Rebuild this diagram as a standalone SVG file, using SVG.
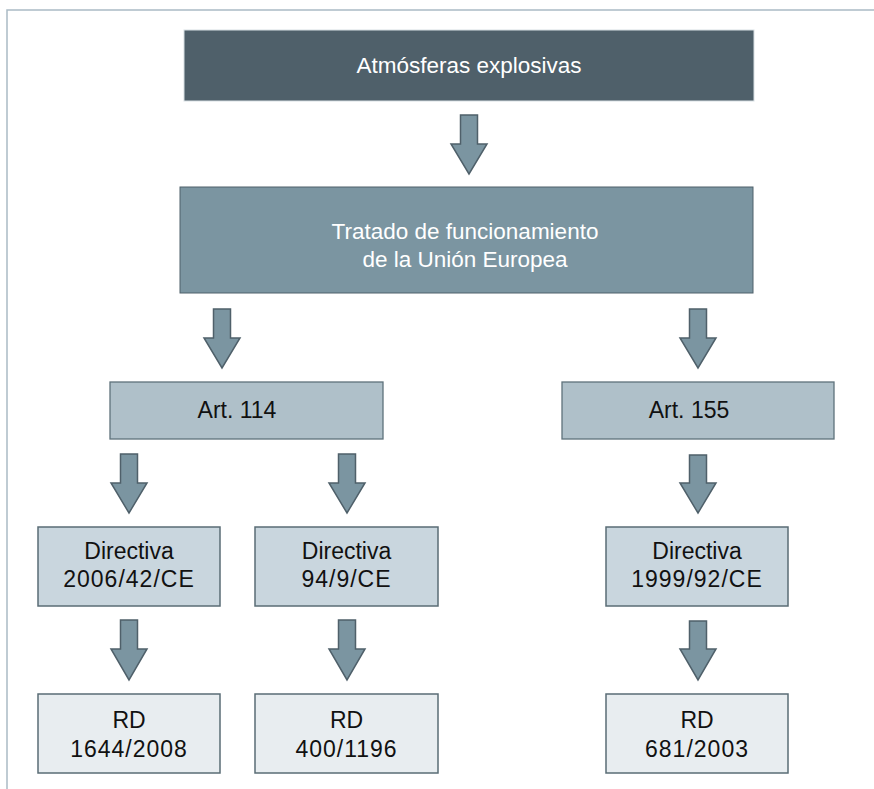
<svg xmlns="http://www.w3.org/2000/svg" width="874" height="789" viewBox="0 0 874 789">
<style>
.frame{fill:none;stroke:#aabbc5;stroke-width:1.5}
.b0{fill:#4f606a;stroke:#d8dfe3;stroke-width:1}
.b1{fill:#7b95a1;stroke:#4f606a;stroke-width:1}
.b2{fill:#afc0c9;stroke:#5f727b;stroke-width:1.3}
.b3{fill:#c9d6de;stroke:#5a6c75;stroke-width:1.5}
.b4{fill:#e8edf0;stroke:#5a6c75;stroke-width:1.5}
.arr{fill:#7b95a1;stroke:#4f606a;stroke-width:1.5;stroke-linejoin:miter}
text{font-family:"Liberation Sans",Arial,sans-serif;text-anchor:middle}
.w{fill:#ffffff;font-size:22.5px}
.k{fill:#111111;font-size:23px}
.n{letter-spacing:1px}
</style>
<path class="frame" d="M7,789 V10 H874"/>
<g id="connectors">
<path class="arr" d="M460.5,115 H477.5 V144 H487 L469,174 L451,144 H460.5 Z"/>
<path class="arr" d="M213.5,309 H230.5 V338 H240 L222,368 L204,338 H213.5 Z"/>
<path class="arr" d="M689.5,309 H706.5 V338 H716 L698,368 L680,338 H689.5 Z"/>
<path class="arr" d="M120.5,454 H137.5 V483 H147 L129,513 L111,483 H120.5 Z"/>
<path class="arr" d="M338.5,454 H355.5 V483 H365 L347,513 L329,483 H338.5 Z"/>
<path class="arr" d="M689.5,455 H706.5 V483 H716 L698,513 L680,483 H689.5 Z"/>
<path class="arr" d="M120.5,620 H137.5 V649 H147 L129,680 L111,649 H120.5 Z"/>
<path class="arr" d="M338.5,620 H355.5 V649 H365 L347,680 L329,649 H338.5 Z"/>
<path class="arr" d="M689.5,621 H706.5 V649 H716 L698,680 L680,649 H689.5 Z"/>
</g>
<g id="atmosferas">
<rect class="b0" x="184" y="30" width="570" height="71"/>
<text class="w" x="469" y="73">Atmósferas explosivas</text>
</g>
<g id="tratado">
<rect class="b1" x="180" y="187" width="573" height="106"/>
<text class="w" x="465" y="239">Tratado de funcionamiento</text>
<text class="w" x="465" y="267">de la Unión Europea</text>
</g>
<g id="art114">
<rect class="b2" x="110" y="382" width="273" height="57"/>
<text class="k" x="237" y="418">Art. 114</text>
</g>
<g id="art155">
<rect class="b2" x="562" y="382" width="272" height="57"/>
<text class="k" x="689" y="418">Art. 155</text>
</g>
<g id="dir2006">
<rect class="b3" x="38" y="527" width="182" height="79"/>
<text class="k" x="129" y="559">Directiva</text>
<text class="k n" x="129" y="587">2006/42/CE</text>
</g>
<g id="dir949">
<rect class="b3" x="255" y="527" width="183" height="79"/>
<text class="k" x="346.5" y="559">Directiva</text>
<text class="k n" x="346.5" y="587">94/9/CE</text>
</g>
<g id="dir1999">
<rect class="b3" x="606" y="527" width="182" height="79"/>
<text class="k" x="697" y="559">Directiva</text>
<text class="k n" x="697" y="587">1999/92/CE</text>
</g>
<g id="rd1644">
<rect class="b4" x="38" y="694" width="182" height="79"/>
<text class="k" x="129" y="728">RD</text>
<text class="k n" x="129" y="757">1644/2008</text>
</g>
<g id="rd400">
<rect class="b4" x="255" y="694" width="183" height="79"/>
<text class="k" x="346.5" y="728">RD</text>
<text class="k n" x="346.5" y="757">400/1196</text>
</g>
<g id="rd681">
<rect class="b4" x="606" y="694" width="182" height="79"/>
<text class="k" x="697" y="728">RD</text>
<text class="k n" x="697" y="757">681/2003</text>
</g>
</svg>
